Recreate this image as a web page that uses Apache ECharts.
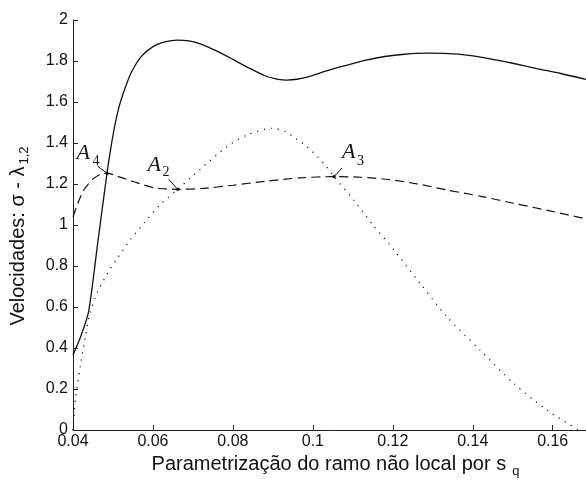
<!DOCTYPE html>
<html>
<head>
<meta charset="utf-8">
<script src="https://cdn.jsdelivr.net/npm/echarts@6/dist/echarts.min.js"></script>
<style>
  html, body { margin: 0; padding: 0; background: #ffffff; }
  #chart { width: 586px; height: 481px; }
</style>
</head>
<body>
<div id="chart"></div>
<script>
// Tick labels
const xTickLabels = ['0.04', '0.06', '0.08', '0.1', '0.12', '0.14', '0.16'];

// Solid curve
const solidX = [0.0400, 0.0420, 0.0439, 0.0462, 0.0485, 0.0495, 0.0505, 0.0515, 0.0527, 0.0545, 0.0570, 0.0600, 0.0630, 0.0660, 0.0690, 0.0720, 0.0760, 0.0800, 0.0840, 0.0880, 0.0910, 0.0935, 0.0960, 0.0990, 0.1030, 0.1080, 0.1130, 0.1180, 0.1230, 0.1285, 0.1340, 0.1385, 0.1440, 0.1500, 0.1560, 0.1620, 0.1683];
const solidY = [0.366, 0.460, 0.577, 0.915, 1.252, 1.380, 1.490, 1.575, 1.650, 1.740, 1.820, 1.870, 1.893, 1.902, 1.898, 1.882, 1.848, 1.808, 1.766, 1.728, 1.712, 1.707, 1.711, 1.724, 1.749, 1.777, 1.803, 1.822, 1.833, 1.838, 1.836, 1.829, 1.812, 1.789, 1.763, 1.739, 1.710];

// Dashed curve
const dashedX = [0.0400, 0.0413, 0.0427, 0.0450, 0.0470, 0.0485, 0.0520, 0.0552, 0.0602, 0.0662, 0.0720, 0.0800, 0.0880, 0.0968, 0.1053, 0.1120, 0.1190, 0.1260, 0.1335, 0.1420, 0.1502, 0.1590, 0.1683];
const dashedY = [1.040, 1.110, 1.171, 1.225, 1.248, 1.252, 1.232, 1.211, 1.182, 1.174, 1.178, 1.194, 1.213, 1.230, 1.236, 1.233, 1.222, 1.201, 1.171, 1.140, 1.106, 1.070, 1.030];

// Dotted curve
const dottedX = [0.0400, 0.0406, 0.0418, 0.0431, 0.0442, 0.0460, 0.0485, 0.0510, 0.0543, 0.0580, 0.0618, 0.0662, 0.0718, 0.0785, 0.0835, 0.0897, 0.0931, 0.0985, 0.1027, 0.1053, 0.1102, 0.1150, 0.1190, 0.1268, 0.1335, 0.1418, 0.1502, 0.1585, 0.1665];
const dottedY = [0.000, 0.146, 0.309, 0.455, 0.569, 0.667, 0.760, 0.835, 0.927, 1.015, 1.100, 1.174, 1.272, 1.382, 1.439, 1.472, 1.455, 1.382, 1.301, 1.236, 1.122, 1.000, 0.910, 0.716, 0.553, 0.390, 0.228, 0.098, 0.000];

// Crossing points
const pointNames = ['4', '2', '3'];
const pointX = [0.0485, 0.0662, 0.1053];
const pointY = [1.252, 1.174, 1.236];

// Label placement around each crossing point (pixels)
const pointLabelStyle = [
  { lead: [-9.5, -7.3], a: [-30.5, -20.5], s: [-14.5, -12.5] },
  { lead: [-9, -10], a: [-30.3, -24], s: [-15.3, -17] },
  { lead: [8, -8.7], a: [8, -24], s: [23, -15] }
];

const zip = (xs, ys) => xs.map((x, i) => [x, ys[i]]);

const ink = '#111111';
const axisFont = 'Liberation Sans';

const chart = echarts.init(document.getElementById('chart'), null, { renderer: 'canvas' });

chart.setOption({
  animation: false,
  backgroundColor: '#ffffff',
  grid: { left: 73, right: 0, top: 20, bottom: 51, containLabel: false, outerBoundsMode: 'none' },
  xAxis: {
    type: 'value',
    min: 0.04,
    max: 0.16833,
    interval: 0.02,
    splitLine: { show: false },
    axisLine: { show: true, onZero: false, lineStyle: { color: '#222222', width: 1 } },
    axisTick: { show: true, inside: true, length: 5, lineStyle: { color: '#222222' } },
    axisLabel: {
      color: ink, fontFamily: axisFont, fontSize: 16, margin: 4,
      showMaxLabel: false,
      formatter: v => {
        const t = xTickLabels.find(s => Math.abs(parseFloat(s) - v) < 1e-6);
        return t || '';
      }
    },
    name: '{m|Parametrização do ramo não local por s}{s|q}',
    nameLocation: 'middle',
    nameGap: 21,
    nameTextStyle: {
      rich: {
        m: { fontFamily: axisFont, fontSize: 20, color: ink, padding: [0, 0, 0, 12] },
        s: { fontFamily: axisFont, fontSize: 13, color: ink, padding: [14, 0, 0, 6] }
      }
    }
  },
  yAxis: {
    type: 'value',
    min: 0,
    max: 2,
    interval: 0.2,
    splitLine: { show: false },
    axisLine: { show: true, onZero: false, lineStyle: { color: '#222222', width: 1 } },
    axisTick: { show: true, inside: true, length: 5, lineStyle: { color: '#222222' } },
    axisLabel: { color: ink, fontFamily: axisFont, fontSize: 16, margin: 5 },
    name: '{m|Velocidades: σ - λ}{s|1,2}',
    nameLocation: 'middle',
    nameGap: 42,
    nameTextStyle: {
      rich: {
        m: { fontFamily: axisFont, fontSize: 20, color: ink },
        s: { fontFamily: axisFont, fontSize: 13, color: ink, padding: [12, 22, 0, 2] }
      }
    }
  },
  series: [
    {
      type: 'line', data: zip(solidX, solidY), smooth: 0.25, showSymbol: false,
      lineStyle: { color: ink, width: 1.3, type: 'solid' }
    },
    {
      type: 'line', data: zip(dashedX, dashedY), smooth: 0.25, showSymbol: false,
      lineStyle: { color: ink, width: 1.2, type: [9, 5] }
    },
    {
      type: 'line', data: zip(dottedX, dottedY), smooth: 0.25, showSymbol: false,
      lineStyle: { color: ink, width: 1.2, type: [1.2, 5.8] }
    },
    {
      type: 'custom',
      data: zip(pointX, pointY),
      z: 5,
      renderItem: function (params, api) {
        const i = params.dataIndex;
        const p = api.coord([api.value(0), api.value(1)]);
        const o = pointLabelStyle[i];
        return {
          type: 'group',
          children: [
            { type: 'line', shape: { x1: p[0] + o.lead[0], y1: p[1] + o.lead[1], x2: p[0], y2: p[1] },
              style: { stroke: ink, lineWidth: 1 } },
            { type: 'circle', shape: { cx: p[0], cy: p[1], r: 1.7 }, style: { fill: ink } },
            { type: 'text', style: { text: 'A', x: p[0] + o.a[0], y: p[1] + o.a[1],
              font: 'italic 22px "Liberation Serif"', fill: ink, align: 'left', verticalAlign: 'middle' } },
            { type: 'text', style: { text: pointNames[i], x: p[0] + o.s[0], y: p[1] + o.s[1],
              font: '14px "Liberation Serif"', fill: ink, align: 'left', verticalAlign: 'middle' } }
          ]
        };
      }
    }
  ]
});
</script>
</body>
</html>
